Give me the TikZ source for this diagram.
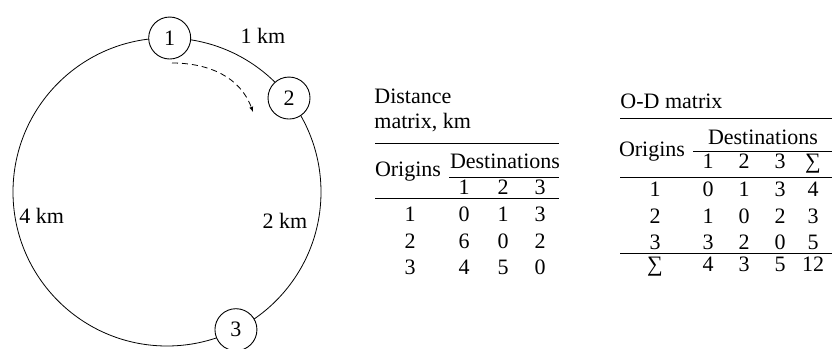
\documentclass[tikz,border=0pt]{standalone}
\usepackage{fontspec}
\setmainfont{Liberation Serif}
\tikzset{
  stop/.style={circle, draw, fill=white, line width=0.9pt, minimum size=42pt, inner sep=0pt},
  cell/.style={inner sep=0pt, text height=14pt, text depth=0pt},
  rule/.style={line width=0.9pt},
  thinrule/.style={line width=0.6pt},
}
\begin{document}
\begin{tikzpicture}[x=1pt,y=1pt,line width=0.8pt,font=\fontsize{22}{25}\selectfont]
\useasboundingbox (0,0) rectangle (832,348);
% ring road with the three stops
\coordinate (c) at (167,156);
\draw (c) circle (154pt);
\node[stop] (n1) at ([shift={(89:154pt)}]c) {1};
\node[stop] (n2) at ([shift={(37.6:154pt)}]c) {2};
\node[stop] (n3) at ([shift={(-63.4:154pt)}]c) {3};
\node[cell] (k12) at (263,311) {1 km};
\node[cell] (k23) at (285,126) {2 km};
\node[cell,anchor=west] (k31) at (19,131) {4 km};
\coordinate (a1) at (172,285);
\coordinate (a2) at (253,236);
\draw[-latex,dash pattern=on 6pt off 4pt] (a1) to[out=0,in=110] (a2);

% distance matrix
\node at (374,237.5) [anchor=west,align=left,inner sep=0pt] (dtitle) {Distance\\matrix, km};
\draw[rule] (375,205) -- (559,205);
\node[cell] (dorig) at (408,178) {Origins};
\node[cell] (ddest) at (505,186) {Destinations};
\draw[thinrule] (449,171) -- (559,171);
\foreach \j/\x in {1/464,2/503,3/540} \node[cell] (dh\j) at (\x,160) {\j};
\draw[rule] (375,150) -- (559,150);
\foreach \i/\y/\a/\b/\c in {1/133/0/1/3,2/106/6/0/2,3/80/4/5/0} {
  \node[cell] (dr\i) at (410,\y) {\i};
  \node[cell] (d\i a) at (464,\y) {\a};
  \node[cell] (d\i b) at (503,\y) {\b};
  \node[cell] (d\i c) at (540,\y) {\c};
}

% O-D matrix
\node at (620,246) [anchor=west,inner sep=0pt,text height=14pt,text depth=0pt] (otitle) {O-D matrix};
\draw[rule] (620,230) -- (832,230);
\node[cell] (oorig) at (652,198) {Origins};
\node[cell] (odest) at (763,210) {Destinations};
\draw[thinrule] (693,197) -- (832,197);
\foreach \j/\x in {1/708,2/744,3/780,∑/813} \node[cell] (oh\j) at (\x,186) {\j};
\draw[rule] (620,171) -- (832,171);
\foreach \i/\y/\a/\b/\c/\s in {1/158/0/1/3/4,2/131/1/0/2/3,3/105/3/2/0/5,∑/83/4/3/5/12} {
  \node[cell] (or\i) at (655,\y) {\i};
  \node[cell] (o\i a) at (708,\y) {\a};
  \node[cell] (o\i b) at (744,\y) {\b};
  \node[cell] (o\i c) at (780,\y) {\c};
  \node[cell] (o\i s) at (813,\y) {\s};
}
\draw[rule] (620,95) -- (832,95);
\end{tikzpicture}
\end{document}
